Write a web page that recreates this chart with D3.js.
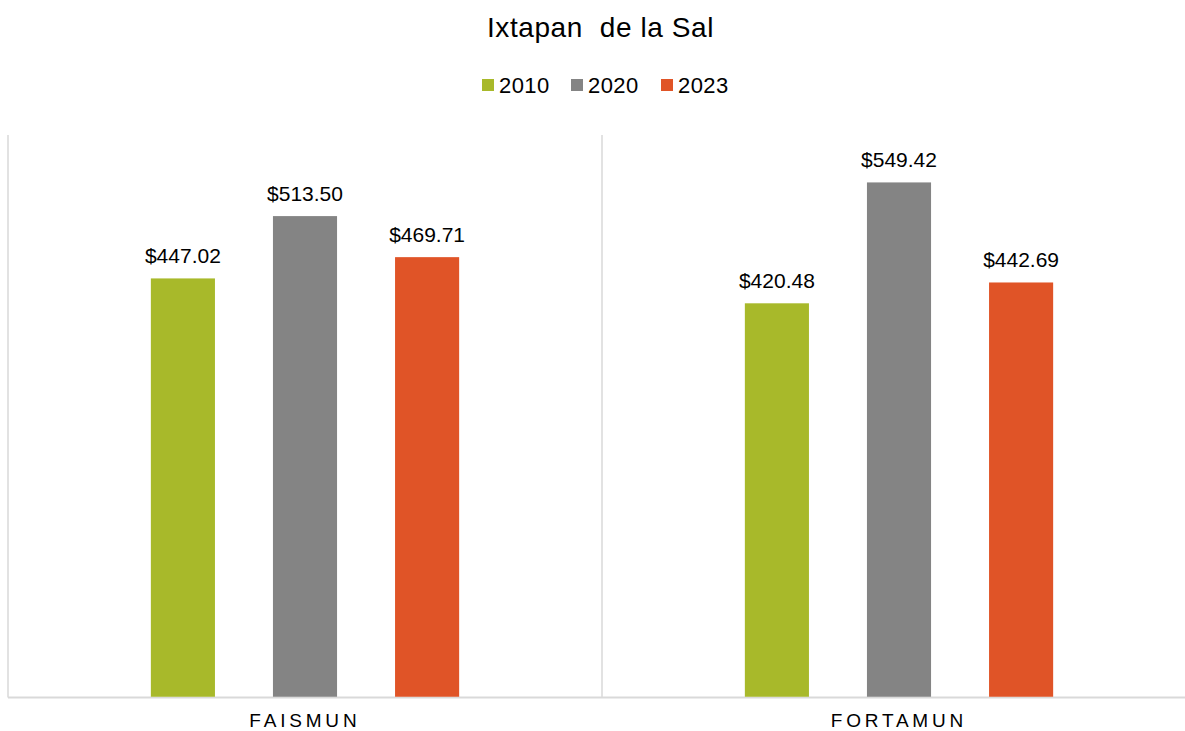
<!DOCTYPE html>
<html><head><meta charset="utf-8">
<script src="https://cdn.jsdelivr.net/npm/d3@7"></script>
<style>html,body{margin:0;padding:0;background:#fff;}svg{display:block;font-family:"Liberation Sans",Arial,sans-serif;}</style>
</head><body>
<svg id="c" width="1185" height="731"></svg>
<script>
const title = "Ixtapan  de la Sal";
const categories = ["FAISMUN", "FORTAMUN"];
const series = ["2010", "2020", "2023"];
const values2010 = [447.02, 420.48];
const values2020 = [513.50, 549.42];
const values2023 = [469.71, 442.69];
const colors = ["#A8B92A", "#848484", "#E05427"];
const seriesValues = [values2010, values2020, values2023];

const svg = d3.select("#c");
const plotLeft = 8, plotRight = 1196, plotTop = 135, plotBottom = 697.5;

const x = d3.scaleBand().domain(categories).range([plotLeft, plotRight]).paddingInner(0).paddingOuter(0);
const inner = d3.scaleBand().domain(series).range([0, x.bandwidth()]).paddingInner(0.475).paddingOuter(1.17);
const y = d3.scaleLinear().domain([0, 600]).range([plotBottom, plotTop]);

// title
svg.append("text").attr("x", 600.5).attr("y", 36.7).attr("text-anchor", "middle")
  .style("white-space", "pre")
  .attr("font-size", 28).attr("letter-spacing", 0.6).attr("fill", "#000").text(title);

// legend
const legendX = [482, 571, 661];
const lg = svg.append("g");
series.forEach((s, i) => {
  lg.append("rect").attr("x", legendX[i]).attr("y", 79).attr("width", 12).attr("height", 12).attr("fill", colors[i]);
  lg.append("text").attr("x", legendX[i] + 17).attr("y", 92.5).attr("font-size", 22).attr("letter-spacing", 0.4).attr("fill", "#000").text(s);
});

// axis lines
const lineColor = "#d9d9d9";
const bounds = [plotLeft].concat(categories.map(c => x(c) + x.bandwidth()));
bounds.forEach(bx => {
  svg.append("line").attr("x1", bx).attr("x2", bx).attr("y1", plotTop).attr("y2", plotBottom)
    .attr("stroke", lineColor).attr("stroke-width", 1.5);
});
svg.append("line").attr("x1", plotLeft).attr("x2", plotRight).attr("y1", plotBottom).attr("y2", plotBottom)
  .attr("stroke", lineColor).attr("stroke-width", 2);

// bars
const fmt = d3.format(",.2f");
categories.forEach((c, ci) => {
  const g = svg.append("g").attr("transform", `translate(${x(c)},0)`);
  series.forEach((s, si) => {
    const v = seriesValues[si][ci];
    g.append("rect").attr("x", inner(s)).attr("y", y(v)).attr("width", inner.bandwidth())
      .attr("height", plotBottom - 0.75 - y(v)).attr("fill", colors[si]);
    g.append("text").attr("x", inner(s) + inner.bandwidth() / 2).attr("y", y(v) - 15)
      .attr("text-anchor", "middle").attr("font-size", 21).attr("fill", "#000").text("$" + fmt(v));
  });
});

// category labels
const ls = 3.8;
categories.forEach(c => {
  svg.append("text").attr("x", x(c) + x.bandwidth() / 2 + ls / 2 - 2).attr("y", 726.5)
    .attr("text-anchor", "middle").attr("font-size", 19).attr("letter-spacing", ls)
    .attr("fill", "#000").text(c);
});
</script>
</body></html>
